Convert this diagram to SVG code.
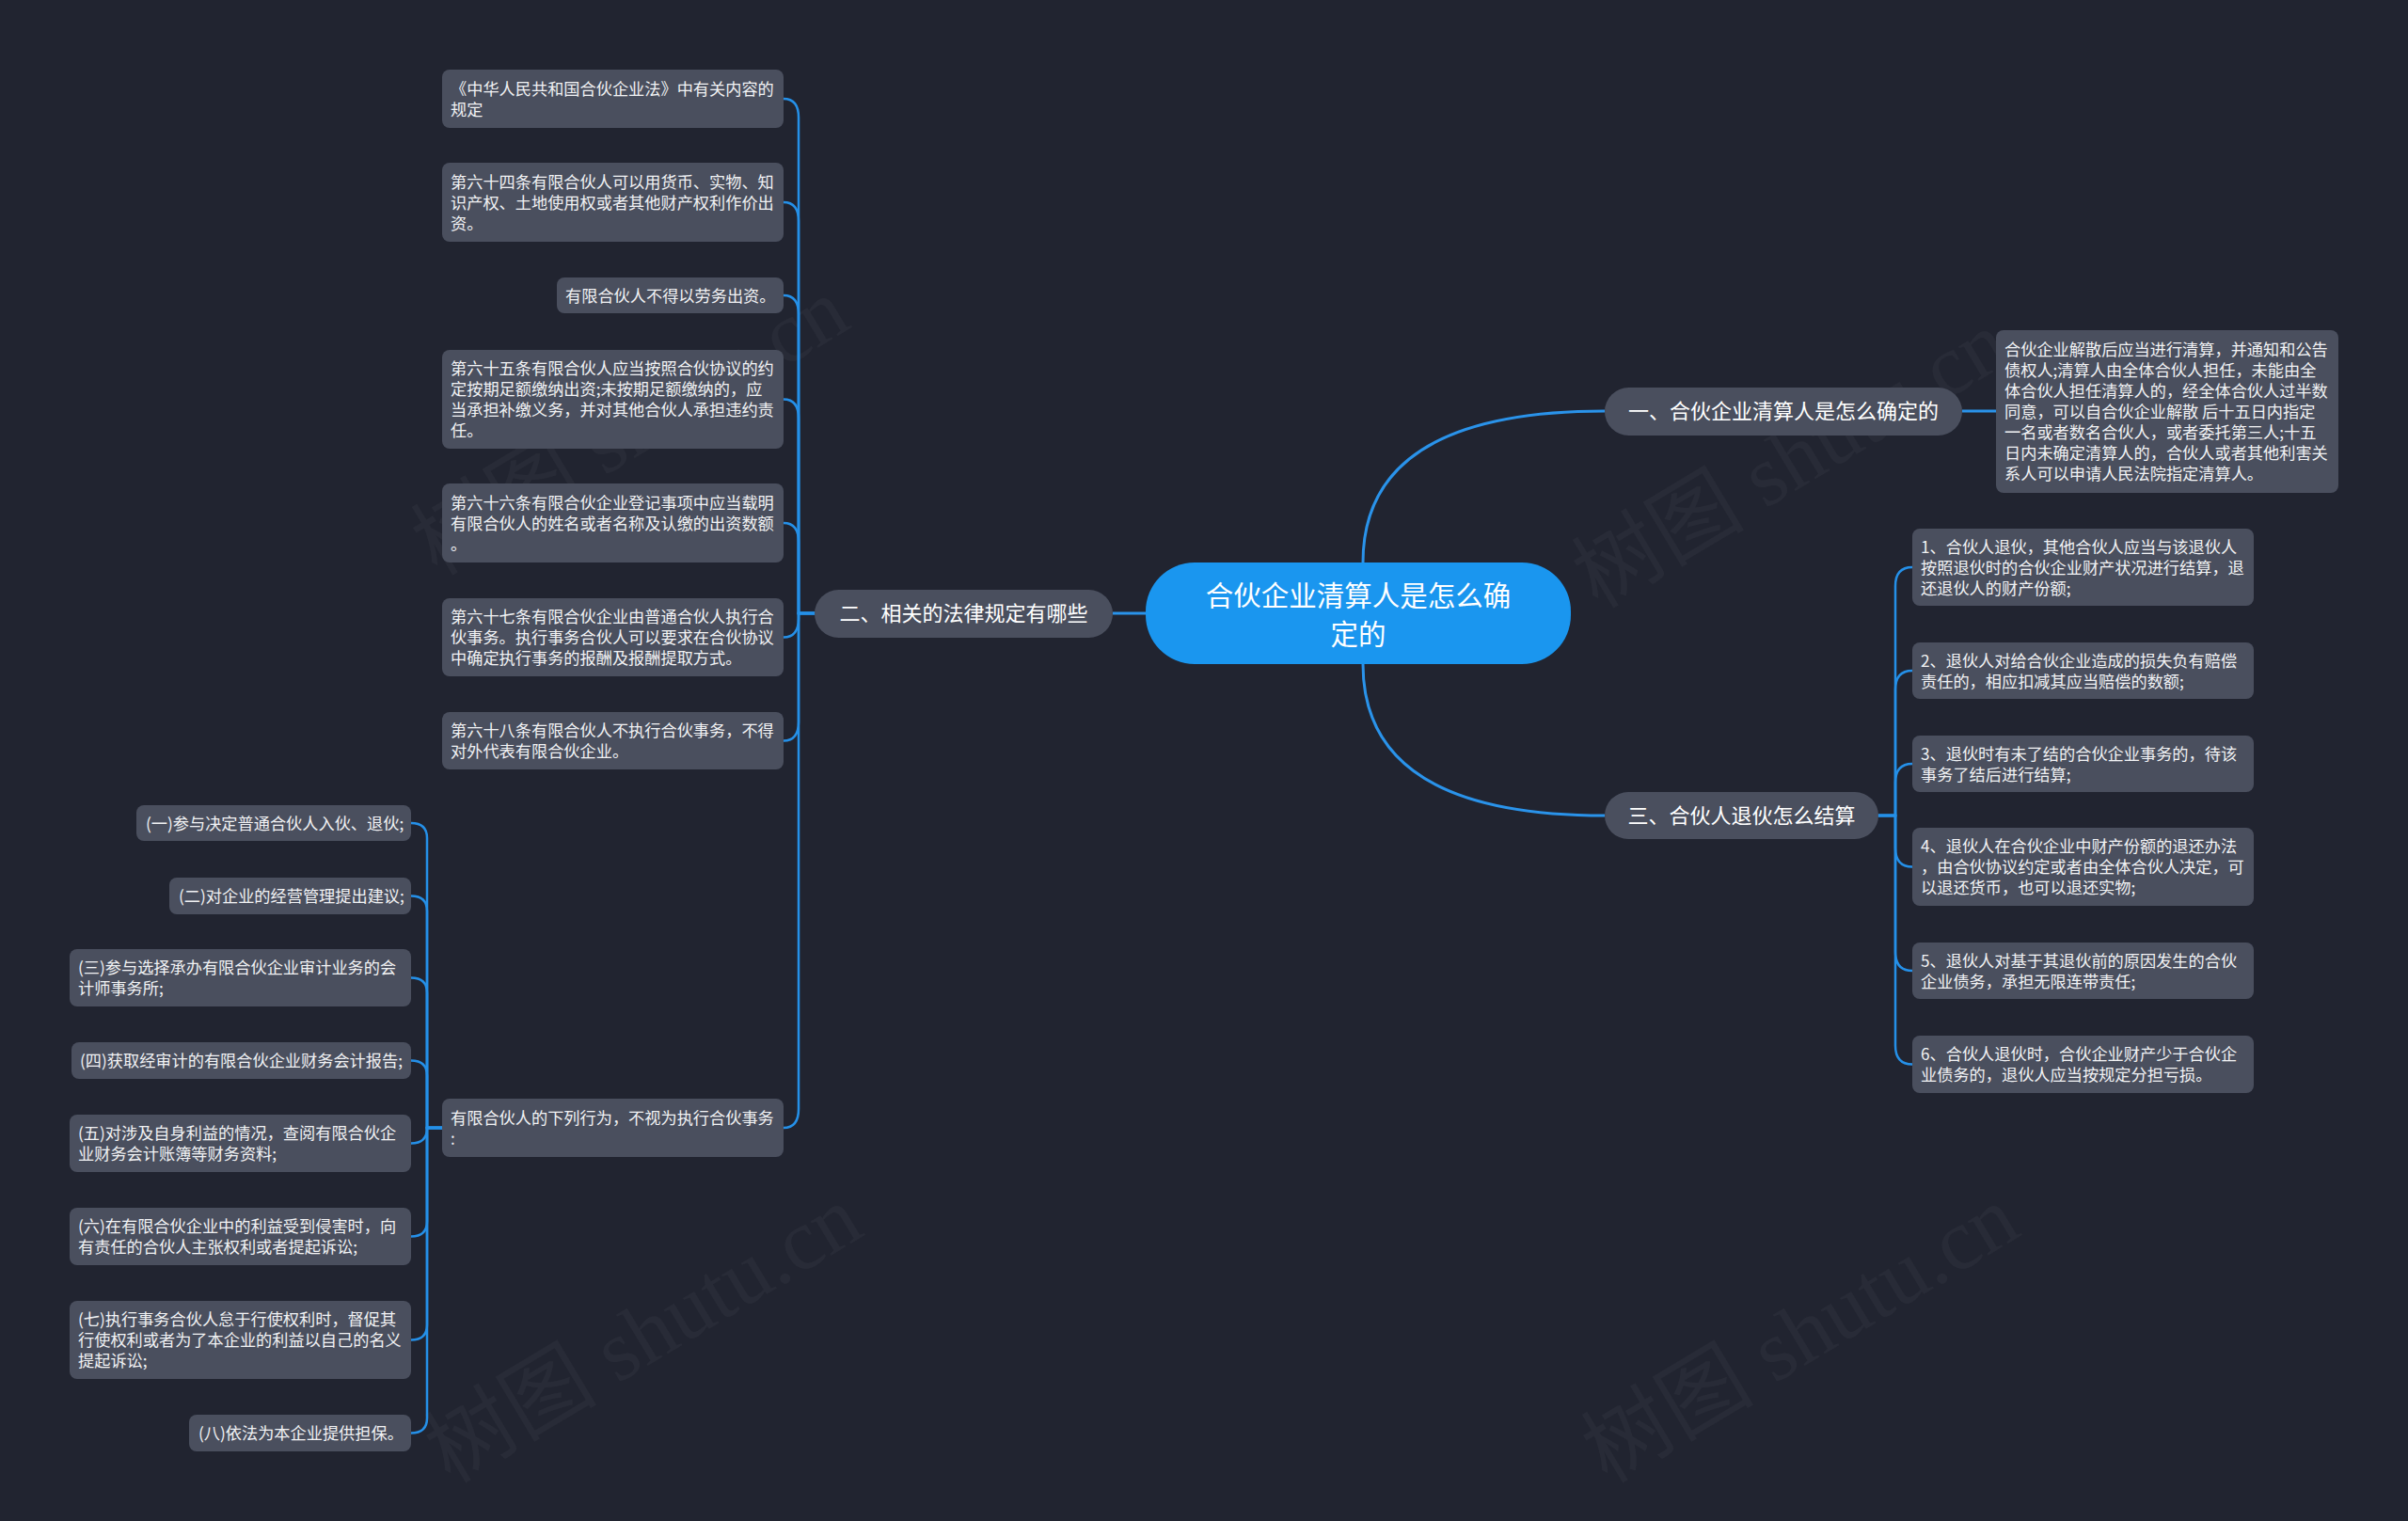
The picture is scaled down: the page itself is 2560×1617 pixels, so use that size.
<svg xmlns="http://www.w3.org/2000/svg" width="2560" height="1617" viewBox="0 0 2560 1617">
<style>
.bg{fill:#212430}
.wm{font-family:"Liberation Serif","Noto Sans CJK SC",serif;font-size:92px;fill:#ffffff;fill-opacity:0.035;text-anchor:middle}
.conn{fill:none;stroke:#2590e8;stroke-width:2.5;stroke-linecap:round}
.main{fill:none;stroke:#2a93ea;stroke-width:3}
.leaf rect{fill:#4a4f5e}
.leaf text{font-family:"Noto Sans CJK SC","Noto Sans",sans-serif;font-size:17.2px;fill:#f1f2f4}
.branch rect{fill:#4a4f5e}
.branch text{font-family:"Noto Sans CJK SC","Noto Sans",sans-serif;font-size:22px;fill:#ffffff;text-anchor:middle}
.root rect{fill:#1a96ef}
.root text{font-family:"Noto Sans CJK SC","Noto Sans",sans-serif;font-size:29.5px;fill:#ffffff;text-anchor:middle}
</style>
<rect class="bg" x="0" y="0" width="2560" height="1617"/>
<g id="watermarks">
<text class="wm" transform="translate(686,480) rotate(-31)">树图 shutu.cn</text>
<text class="wm" transform="translate(1920,515) rotate(-31)">树图 shutu.cn</text>
<text class="wm" transform="translate(700,1445) rotate(-31)">树图 shutu.cn</text>
<text class="wm" transform="translate(1930,1445) rotate(-31)">树图 shutu.cn</text>
</g>
<g id="connectors">
<path class="main" d="M1449,598 Q1449,437 1706,437"/>
<path class="main" d="M1449,706 Q1449,867 1706,867"/>
<path class="main" d="M1218,652 L1183,652"/>
<path class="main" d="M2086,437 L2122,437"/>
<path class="conn" d="M1997,867 H2015 V623 Q2015,603 2033,603"/>
<path class="conn" d="M1997,867 H2015 V733 Q2015,713 2033,713"/>
<path class="conn" d="M1997,867 H2015 V832 Q2015,812 2033,812"/>
<path class="conn" d="M1997,867 H2015 V901.5 Q2015,921.5 2033,921.5"/>
<path class="conn" d="M1997,867 H2015 V1012 Q2015,1032 2033,1032"/>
<path class="conn" d="M1997,867 H2015 V1111.5 Q2015,1131.5 2033,1131.5"/>
<path class="conn" d="M866,652 H849 V125 Q849,105 833,105"/>
<path class="conn" d="M866,652 H849 V235 Q849,215 833,215"/>
<path class="conn" d="M866,652 H849 V334 Q849,314 833,314"/>
<path class="conn" d="M866,652 H849 V444.5 Q849,424.5 833,424.5"/>
<path class="conn" d="M866,652 H849 V576 Q849,556 833,556"/>
<path class="conn" d="M866,652 H849 V657.5 Q849,677.5 833,677.5"/>
<path class="conn" d="M866,652 H849 V767.5 Q849,787.5 833,787.5"/>
<path class="conn" d="M866,652 H849 V1179 Q849,1199 833,1199"/>
<path class="conn" d="M471,1199 H454 V891 Q454,875 437,875"/>
<path class="conn" d="M471,1199 H454 V968.5 Q454,952.5 437,952.5"/>
<path class="conn" d="M471,1199 H454 V1055.5 Q454,1039.5 437,1039.5"/>
<path class="conn" d="M471,1199 H454 V1143.5 Q454,1127.5 437,1127.5"/>
<path class="conn" d="M471,1199 H454 V1199.5 Q454,1215.5 437,1215.5"/>
<path class="conn" d="M471,1199 H454 V1298.5 Q454,1314.5 437,1314.5"/>
<path class="conn" d="M471,1199 H454 V1408.5 Q454,1424.5 437,1424.5"/>
<path class="conn" d="M471,1199 H454 V1507.5 Q454,1523.5 437,1523.5"/>
</g>
<g id="root" class="root">
<rect x="1218" y="598" width="452" height="108" rx="52"/>
<text x="1444" y="644">合伙企业清算人是怎么确</text>
<text x="1444" y="685">定的</text>
</g>
<g id="branch1" class="branch">
<rect x="1706" y="412" width="380" height="51" rx="25.5"/>
<text x="1896" y="445">一、合伙企业清算人是怎么确定的</text>
</g>
<g id="branch2" class="branch">
<rect x="866" y="627" width="317" height="51" rx="25.5"/>
<text x="1024.5" y="660">二、相关的法律规定有哪些</text>
</g>
<g id="branch3" class="branch">
<rect x="1706" y="842" width="291" height="50" rx="25"/>
<text x="1851.5" y="875">三、合伙人退伙怎么结算</text>
</g>
<g id="b1-leaf" class="leaf">
<rect x="2122" y="351" width="364" height="173" rx="8"/>
<text x="2131" y="378">合伙企业解散后应当进行清算，并通知和公告</text>
<text x="2131" y="400">债权人;清算人由全体合伙人担任，未能由全</text>
<text x="2131" y="422">体合伙人担任清算人的，经全体合伙人过半数</text>
<text x="2131" y="444">同意，可以自合伙企业解散 后十五日内指定</text>
<text x="2131" y="466">一名或者数名合伙人，或者委托第三人;十五</text>
<text x="2131" y="488">日内未确定清算人的，合伙人或者其他利害关</text>
<text x="2131" y="510">系人可以申请人民法院指定清算人。</text>
</g>
<g id="r1" class="leaf">
<rect x="2033" y="562" width="363" height="82" rx="8"/>
<text x="2042" y="587.5">1、合伙人退伙，其他合伙人应当与该退伙人</text>
<text x="2042" y="609.5">按照退伙时的合伙企业财产状况进行结算，退</text>
<text x="2042" y="631.5">还退伙人的财产份额;</text>
</g>
<g id="r2" class="leaf">
<rect x="2033" y="683" width="363" height="60" rx="8"/>
<text x="2042" y="708.5">2、退伙人对给合伙企业造成的损失负有赔偿</text>
<text x="2042" y="730.5">责任的，相应扣减其应当赔偿的数额;</text>
</g>
<g id="r3" class="leaf">
<rect x="2033" y="782" width="363" height="60" rx="8"/>
<text x="2042" y="807.5">3、退伙时有未了结的合伙企业事务的，待该</text>
<text x="2042" y="829.5">事务了结后进行结算;</text>
</g>
<g id="r4" class="leaf">
<rect x="2033" y="880" width="363" height="83" rx="8"/>
<text x="2042" y="906">4、退伙人在合伙企业中财产份额的退还办法</text>
<text x="2042" y="928">，由合伙协议约定或者由全体合伙人决定，可</text>
<text x="2042" y="950">以退还货币，也可以退还实物;</text>
</g>
<g id="r5" class="leaf">
<rect x="2033" y="1002" width="363" height="60" rx="8"/>
<text x="2042" y="1027.5">5、退伙人对基于其退伙前的原因发生的合伙</text>
<text x="2042" y="1049.5">企业债务，承担无限连带责任;</text>
</g>
<g id="r6" class="leaf">
<rect x="2033" y="1101" width="363" height="61" rx="8"/>
<text x="2042" y="1127">6、合伙人退伙时，合伙企业财产少于合伙企</text>
<text x="2042" y="1149">业债务的，退伙人应当按规定分担亏损。</text>
</g>
<g id="c1" class="leaf">
<rect x="470" y="74" width="363" height="62" rx="8"/>
<text x="479" y="100.5">《中华人民共和国合伙企业法》中有关内容的</text>
<text x="479" y="122.5">规定</text>
</g>
<g id="c2" class="leaf">
<rect x="470" y="173" width="363" height="84" rx="8"/>
<text x="479" y="199.5">第六十四条有限合伙人可以用货币、实物、知</text>
<text x="479" y="221.5">识产权、土地使用权或者其他财产权利作价出</text>
<text x="479" y="243.5">资。</text>
</g>
<g id="c3" class="leaf">
<rect x="592" y="295" width="241" height="38" rx="8"/>
<text x="601" y="320.5">有限合伙人不得以劳务出资。</text>
</g>
<g id="c4" class="leaf">
<rect x="470" y="372" width="363" height="105" rx="8"/>
<text x="479" y="398">第六十五条有限合伙人应当按照合伙协议的约</text>
<text x="479" y="420">定按期足额缴纳出资;未按期足额缴纳的，应</text>
<text x="479" y="442">当承担补缴义务，并对其他合伙人承担违约责</text>
<text x="479" y="464">任。</text>
</g>
<g id="c5" class="leaf">
<rect x="470" y="514" width="363" height="84" rx="8"/>
<text x="479" y="540.5">第六十六条有限合伙企业登记事项中应当载明</text>
<text x="479" y="562.5">有限合伙人的姓名或者名称及认缴的出资数额</text>
<text x="479" y="584.5">。</text>
</g>
<g id="c6" class="leaf">
<rect x="470" y="636" width="363" height="83" rx="8"/>
<text x="479" y="662">第六十七条有限合伙企业由普通合伙人执行合</text>
<text x="479" y="684">伙事务。执行事务合伙人可以要求在合伙协议</text>
<text x="479" y="706">中确定执行事务的报酬及报酬提取方式。</text>
</g>
<g id="c7" class="leaf">
<rect x="470" y="757" width="363" height="61" rx="8"/>
<text x="479" y="783">第六十八条有限合伙人不执行合伙事务，不得</text>
<text x="479" y="805">对外代表有限合伙企业。</text>
</g>
<g id="c8" class="leaf">
<rect x="470" y="1168" width="363" height="62" rx="8"/>
<text x="479" y="1194.5">有限合伙人的下列行为，不视为执行合伙事务</text>
<text x="479" y="1216.5">:</text>
</g>
<g id="s1" class="leaf">
<rect x="145" y="856" width="292" height="38" rx="8"/>
<text x="155" y="881.5">(一)参与决定普通合伙人入伙、退伙;</text>
</g>
<g id="s2" class="leaf">
<rect x="180" y="933" width="257" height="39" rx="8"/>
<text x="190" y="959">(二)对企业的经营管理提出建议;</text>
</g>
<g id="s3" class="leaf">
<rect x="74" y="1009" width="363" height="61" rx="8"/>
<text x="83" y="1035">(三)参与选择承办有限合伙企业审计业务的会</text>
<text x="83" y="1057">计师事务所;</text>
</g>
<g id="s4" class="leaf">
<rect x="76" y="1108" width="361" height="39" rx="8"/>
<text x="85" y="1134">(四)获取经审计的有限合伙企业财务会计报告;</text>
</g>
<g id="s5" class="leaf">
<rect x="74" y="1185" width="363" height="61" rx="8"/>
<text x="83" y="1211">(五)对涉及自身利益的情况，查阅有限合伙企</text>
<text x="83" y="1233">业财务会计账簿等财务资料;</text>
</g>
<g id="s6" class="leaf">
<rect x="74" y="1284" width="363" height="61" rx="8"/>
<text x="83" y="1310">(六)在有限合伙企业中的利益受到侵害时，向</text>
<text x="83" y="1332">有责任的合伙人主张权利或者提起诉讼;</text>
</g>
<g id="s7" class="leaf">
<rect x="74" y="1383" width="363" height="83" rx="8"/>
<text x="83" y="1409">(七)执行事务合伙人怠于行使权利时，督促其</text>
<text x="83" y="1431">行使权利或者为了本企业的利益以自己的名义</text>
<text x="83" y="1453">提起诉讼;</text>
</g>
<g id="s8" class="leaf">
<rect x="201" y="1504" width="236" height="39" rx="8"/>
<text x="211" y="1530">(八)依法为本企业提供担保。</text>
</g>
</svg>
